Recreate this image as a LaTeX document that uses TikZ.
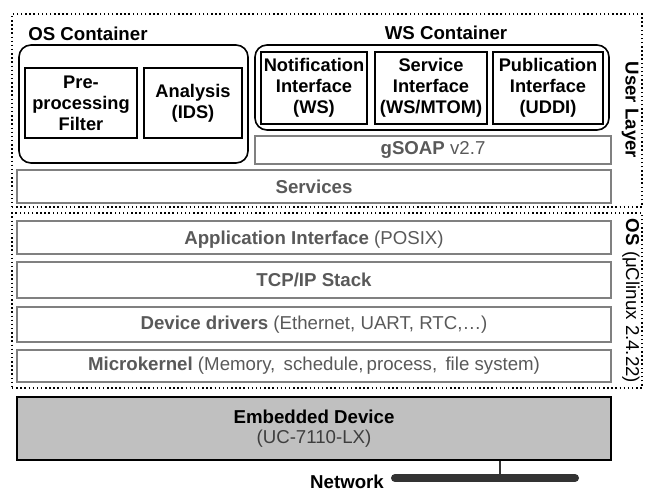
\documentclass[tikz,border=0pt]{standalone}
\usepackage{fontspec}
\setmainfont{Liberation Sans}
\usetikzlibrary{fit}
\definecolor{layergray}{HTML}{808080}
\definecolor{textgray}{HTML}{595959}
\definecolor{devfill}{HTML}{C0C0C0}
\definecolor{wire}{HTML}{333333}

\begin{document}
\begin{tikzpicture}[x=0.75pt,y=-0.75pt,
  every node/.style={font=\fontsize{14}{15.75}\selectfont},
  region/.style={draw, dotted, line width=1.1pt, inner sep=0pt},
  container/.style={draw, rounded corners=9pt, line width=1.2pt, inner sep=0pt},
  unitbox/.style={draw, line width=1.5pt, inner sep=0pt},
  unittext/.style={align=center, inner sep=0pt,
    font=\fontsize{13.7}{15.75}\selectfont\bfseries},
  layerbox/.style={draw=layergray, line width=1.5pt, inner sep=0pt},
  layertext/.style={text=textgray, inner sep=0pt},
  title/.style={font=\fontsize{14}{15.75}\selectfont\bfseries},
]
\useasboundingbox (0,0) rectangle (646,492);

% dotted layer regions
\node[region, fit={(12,14)(642,207)}] (user) {};
\node[region, fit={(12,213)(642,388)}] (os) {};

% OS container
\node[container, fit={(19,45)(248,163)}] (osc) {};
\node[title, anchor=west, inner sep=0pt] (osclabel) at (28,34) {OS Container};
\node[unitbox, fit={(25,68)(137,138)}] (pre) {};
\node[unittext] (pre-t) at (pre.center) {Pre-\\processing\\Filter};
\node[unitbox, fit={(144,68)(242,138)}] (ids) {};
\node[unittext] (ids-t) at (ids.center) {Analysis\\(IDS)};

% WS container
\node[container, fit={(255,45)(609,130)}] (wsc) {};
\node[title] (wslabel) at (446,33) {WS Container};
\node[unitbox, fit={(261,52)(367,124)}] (notif) {};
\node[unittext] (notif-t) at (notif.center) {Notification\\Interface\\(WS)};
\node[unitbox, fit={(375,52)(487,124)}] (svc) {};
\node[unittext] (svc-t) at (svc.center) {Service\\Interface\\(WS/MTOM)};
\node[unitbox, fit={(493,52)(603,124)}] (pub) {};
\node[unittext] (pub-t) at (pub.center) {Publication\\Interface\\(UDDI)};

% user-layer bars
\node[layerbox, fit={(255,136)(611,164)}] (gsoap) {};
\node[layertext] (gsoap-t) at (gsoap.center) {\textbf{gSOAP} v2.7};
\node[layerbox, fit={(17,170)(611,203)}] (services) {};
\node[layertext] (services-t) at (services.center) {\textbf{Services}};
\node[title, rotate=-90] (userlabel) at (630,110) {User Layer};

% OS bars
\node[layerbox, fit={(17,221)(611,254)}] (api) {};
\node[layertext] (api-t) at ([yshift=-1.5pt]api.center) {\textbf{Application Interface} (POSIX)};
\node[layerbox, fit={(17,262)(611,298)}] (tcp) {};
\node[layertext] (tcp-t) at (tcp.center) {\textbf{TCP/IP Stack}};
\node[layerbox, fit={(17,307)(611,342)}] (drv) {};
\node[layertext] (drv-t) at (drv.center) {\textbf{Device drivers} (Ethernet, UART, RTC,\dots)};
\node[layerbox, fit={(17,350)(611,382)}] (kern) {};
\node[layertext] (kern-t) at (kern.center) {\textbf{Microkernel} (Memory,\, schedule,\,process,\, file system)};
\node[rotate=-90] (oslabel) at (631,301) {\textbf{OS} (μClinux 2.4.22)};

% hardware and network
\node[draw, fill=devfill, line width=1.5pt, inner sep=0pt,
  fit={(17,397)(611,460)}] (dev) {};
\node[align=center, inner sep=0pt] (dev-t) at (dev.center)
  {\textbf{Embedded Device}\\[-0.75pt]{\color{textgray!70!black}(UC-7110-LX)}};
\coordinate (tap) at (500,478);
\coordinate (netL) at (395,478);
\coordinate (netR) at (575,478);
\draw[wire, line width=6pt, line cap=round] (netL) -- (netR);
\draw[wire, line width=1.5pt] (dev.south -| tap) -- (tap);
\node[title, inner sep=0pt] (net) at (347,482) {Network};
\end{tikzpicture}
\end{document}
